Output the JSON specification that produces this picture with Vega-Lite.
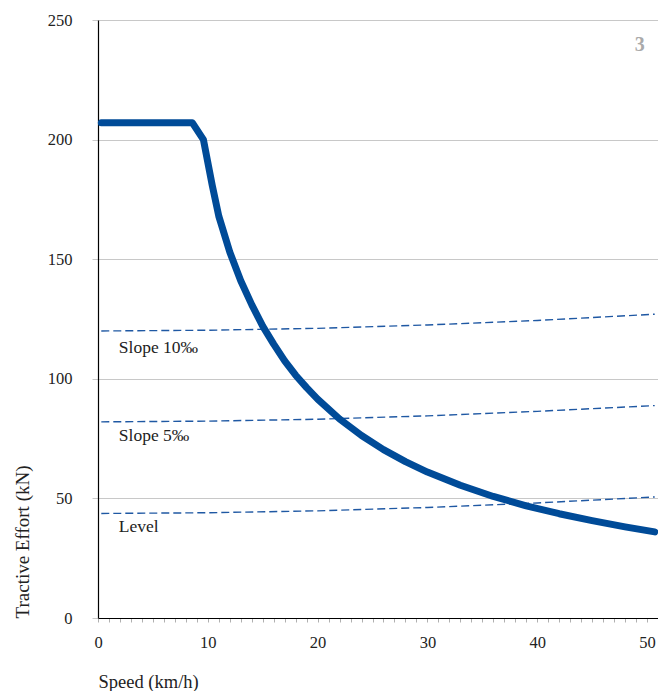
{
  "$schema": "https://vega.github.io/schema/vega-lite/v6.json",
  "width": 560,
  "height": 598,
  "autosize": {"type": "none"},
  "padding": {"left": 98, "top": 20, "right": 0, "bottom": 73},
  "background": "white",
  "config": {
    "view": {"stroke": null},
    "font": "Liberation Serif",
    "axis": {"labelFont": "Liberation Serif", "titleFont": "Liberation Serif", "labelFontSize": 16.5, "titleFontSize": 18.5, "labelColor": "#222", "titleColor": "#222", "titleFontWeight": "normal", "domainColor": "#000", "domainWidth": 1.2}
  },
  "datasets": {
    "effort": [
      {"v": 0.3, "f": 207}, {"v": 8.6, "f": 207}, {"v": 9.6, "f": 200}, {"v": 10.4, "f": 181},
      {"v": 11, "f": 168}, {"v": 12, "f": 153}, {"v": 13, "f": 141}, {"v": 14, "f": 131},
      {"v": 15, "f": 122}, {"v": 16, "f": 114.5}, {"v": 17, "f": 107.5}, {"v": 18, "f": 101.5},
      {"v": 19, "f": 96.3}, {"v": 20, "f": 91.5}, {"v": 22, "f": 83.2}, {"v": 24, "f": 76.3},
      {"v": 26, "f": 70.4}, {"v": 28, "f": 65.4}, {"v": 30, "f": 61}, {"v": 33, "f": 55.5},
      {"v": 36, "f": 50.8}, {"v": 39, "f": 46.9}, {"v": 42, "f": 43.6}, {"v": 45, "f": 40.7},
      {"v": 48, "f": 38.1}, {"v": 50.7, "f": 36}
    ],
    "resistance": [
      {"grade": "Slope 10‰", "v": 0.3, "f": 120}, {"grade": "Slope 10‰", "v": 10, "f": 120.3}, {"grade": "Slope 10‰", "v": 20, "f": 121.1}, {"grade": "Slope 10‰", "v": 30, "f": 122.5}, {"grade": "Slope 10‰", "v": 40, "f": 124.4}, {"grade": "Slope 10‰", "v": 50.7, "f": 127},
      {"grade": "Slope 5‰", "v": 0.3, "f": 82}, {"grade": "Slope 5‰", "v": 10, "f": 82.3}, {"grade": "Slope 5‰", "v": 20, "f": 83.1}, {"grade": "Slope 5‰", "v": 30, "f": 84.5}, {"grade": "Slope 5‰", "v": 40, "f": 86.4}, {"grade": "Slope 5‰", "v": 50.7, "f": 88.8},
      {"grade": "Level", "v": 0.3, "f": 43.7}, {"grade": "Level", "v": 10, "f": 44}, {"grade": "Level", "v": 20, "f": 44.8}, {"grade": "Level", "v": 30, "f": 46.2}, {"grade": "Level", "v": 40, "f": 48.1}, {"grade": "Level", "v": 50.7, "f": 50.6}
    ],
    "labels": [
      {"text": "Slope 10‰", "v": 1.9, "f": 113},
      {"text": "Slope 5‰", "v": 1.9, "f": 76},
      {"text": "Level", "v": 1.9, "f": 38}
    ],
    "badge": [{"text": "3", "v": 49.8, "f": 239.5}]
  },
  "encoding": {
    "x": {"field": "v", "type": "quantitative", "scale": {"domain": [0, 51], "nice": false},
      "axis": {"title": "Speed (km/h)", "values": [0,1,2,3,4,5,6,7,8,9,10,11,12,13,14,15,16,17,18,19,20,21,22,23,24,25,26,27,28,29,30,31,32,33,34,35,36,37,38,39,40,41,42,43,44,45,46,47,48,49,50],
        "labelExpr": "datum.value % 10 === 0 ? datum.label : ''", "labelOverlap": false, "labelSeparation": 0, "grid": false, "tickColor": "#b0b0b0", "tickSize": 4, "labelPadding": 12, "labelFlush": false,
        "titleX": 0, "titleY": 63, "titleAlign": "left", "titleBaseline": "middle", "titleAnchor": null}},
    "y": {"field": "f", "type": "quantitative", "scale": {"domain": [0, 250], "nice": false},
      "axis": {"title": "Tractive Effort (kN)", "values": [0, 50, 100, 150, 200, 250], "grid": true, "gridColor": "#c8c8c8", "tickColor": "#c8c8c8", "tickSize": 6, "labelPadding": 20, "titleFontSize": 19,
        "titleAngle": 270, "titleX": -76, "titleY": 598, "titleAlign": "left", "titleBaseline": "middle", "titleAnchor": null}}
  },
  "layer": [
    {
      "data": {"name": "resistance"},
      "mark": {"type": "line", "color": "#1f58a3", "strokeWidth": 1.4, "strokeDash": [8, 4]},
      "encoding": {"detail": {"field": "grade", "type": "nominal"}}
    },
    {
      "data": {"name": "effort"},
      "mark": {"type": "line", "color": "#004b98", "strokeWidth": 7, "strokeCap": "round", "strokeJoin": "round", "interpolate": "linear"},
      "encoding": {}
    },
    {
      "data": {"name": "labels"},
      "mark": {"type": "text", "align": "left", "baseline": "middle", "fontSize": 17.5, "font": "Liberation Serif", "color": "#222"},
      "encoding": {"text": {"field": "text"}}
    },
    {
      "data": {"name": "badge"},
      "mark": {"type": "text", "align": "right", "baseline": "middle", "fontSize": 20, "fontWeight": "bold", "font": "Liberation Serif", "color": "#aaaaaa"},
      "encoding": {"text": {"field": "text"}}
    }
  ]
}
